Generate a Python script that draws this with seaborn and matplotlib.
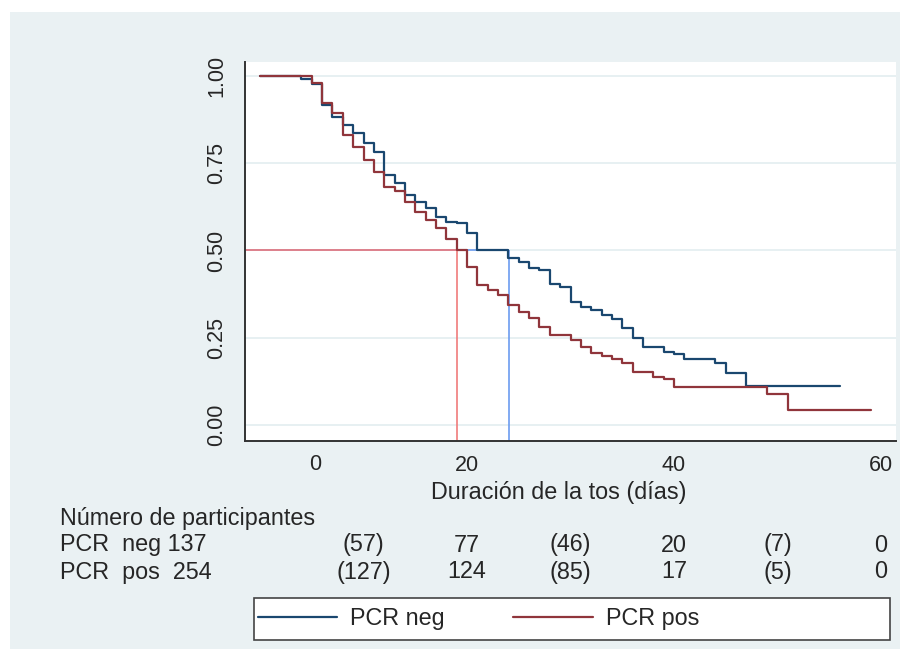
import numpy as np
import pandas as pd
import matplotlib
matplotlib.use('Agg')
import matplotlib.pyplot as plt
import matplotlib.transforms as mtransforms
from matplotlib.patches import Rectangle
from matplotlib.lines import Line2D
import seaborn as sns

# curvas de Kaplan-Meier
dias_neg = [0, 4, 5, 6, 7, 8, 9, 10, 11, 12, 13, 14, 15, 16, 17, 18, 19, 20, 21, 24, 25, 26, 27, 28,
            29, 30, 31, 32, 33, 34, 35, 36, 37, 39, 40, 41, 44, 45, 47, 56]
surv_neg = [1.0, 0.99, 0.977, 0.917, 0.883, 0.86, 0.836, 0.807, 0.783, 0.716, 0.692, 0.659, 0.638,
            0.622, 0.597, 0.583, 0.578, 0.549, 0.5, 0.478, 0.468, 0.449, 0.444, 0.404, 0.396, 0.353,
            0.339, 0.33, 0.315, 0.303, 0.277, 0.248, 0.224, 0.21, 0.202, 0.19, 0.179, 0.15, 0.112, 0.112]
dias_pos = [0, 5, 6, 7, 8, 9, 10, 11, 12, 13, 14, 15, 16, 17, 18, 19, 20, 21, 22, 23, 24, 25, 26, 27,
            28, 30, 31, 32, 33, 34, 35, 36, 38, 39, 40, 49, 51, 59]
surv_pos = [1.0, 0.979, 0.922, 0.893, 0.831, 0.797, 0.759, 0.726, 0.683, 0.671, 0.64, 0.611, 0.587,
            0.564, 0.532, 0.5, 0.454, 0.401, 0.387, 0.372, 0.344, 0.325, 0.306, 0.282, 0.258, 0.244,
            0.224, 0.207, 0.198, 0.189, 0.178, 0.153, 0.138, 0.131, 0.108, 0.088, 0.043, 0.043]

grupos = ['PCR neg', 'PCR pos']
medianas = [24.1, 19]
colores = {'PCR neg': '#1a476f', 'PCR pos': '#90353b'}
colores_mediana = {'PCR neg': '#6c9cf0', 'PCR pos': '#f07b7b'}

# tabla de participantes
tiempos_tabla = [10, 20, 30, 40, 50, 60]
riesgo_neg = ['(57)', '77', '(46)', '20', '(7)', '0']
riesgo_pos = ['(127)', '124', '(85)', '17', '(5)', '0']
etiquetas_filas = ['PCR  neg 137', 'PCR  pos  254']

df = pd.concat([
    pd.DataFrame({'dias': dias_neg, 'surv': surv_neg, 'grupo': 'PCR neg'}),
    pd.DataFrame({'dias': dias_pos, 'surv': surv_pos, 'grupo': 'PCR pos'}),
])

sns.set_style('white')
plt.rcParams['font.family'] = ['Liberation Sans', 'DejaVu Sans']
fs = 16.8

W, H = 903, 656
fig = plt.figure(figsize=(W / 100, H / 100), dpi=100, facecolor='white')
fondo = '#eaf1f3'
fig.patches.append(Rectangle((10 / W, 7 / H), 890 / W, 637 / H, transform=fig.transFigure,
                             facecolor=fondo, edgecolor='none', zorder=-5))

ax = fig.add_axes([245 / W, 1 - 440.7 / H, (896 - 245) / W, (440.7 - 62) / H])
ax.set_facecolor('white')

xmin, xmax = -1.45, 61.45
ymin, ymax = -0.045, 1.04

for y in [0, 0.25, 0.5, 0.75, 1.0]:
    ax.axhline(y, color='#e3edf0', lw=1.2, zorder=0)

# lineas de la mediana
for g, m in zip(grupos, medianas):
    ax.hlines(0.5, xmin, m, color=colores_mediana[g], lw=1.2, zorder=1)
    ax.vlines(m, ymin, 0.5, color=colores_mediana[g], lw=1.2, zorder=1)

sns.lineplot(data=df, x='dias', y='surv', hue='grupo', palette=colores, drawstyle='steps-post',
             lw=1.6, legend=False, errorbar=None, ax=ax, zorder=3)

ax.set_xlim(xmin, xmax)
ax.set_ylim(ymin, ymax)
ax.set_xticks([0, 20, 40, 60])
ax.set_xticklabels(['', '20', '40', '60'], fontsize=15.5)
ax.set_yticks([0, 0.25, 0.5, 0.75, 1.0])
ax.set_yticklabels(['0.00', '0.25', '0.50', '0.75', '1.00'], fontsize=15.5, rotation=90, va='center')
ax.tick_params(axis='both', length=7, width=1.2, color='#333333', direction='out')
ax.tick_params(axis='x', pad=3)
ax.tick_params(axis='y', pad=6)
for s in ['top', 'right']:
    ax.spines[s].set_visible(False)
for s in ['left', 'bottom']:
    ax.spines[s].set_color('#333333')
    ax.spines[s].set_linewidth(1.4)

trans = mtransforms.blended_transform_factory(ax.transData, fig.transFigure)
ax.text(5.3, 1 - 464 / H, '0', transform=trans, ha='center', va='center', fontsize=15.5)

ax.set_xlabel('Duración de la tos (días)', fontsize=fs)
ax.set_ylabel('')
ax.xaxis.set_label_coords((559 - 245) / (896 - 245), 1 - (492 - 62) / (440.7 - 62))
ax.xaxis.label.set_va('center')

fig.text(60 / W, 1 - 518 / H, 'Número de participantes', fontsize=fs, va='center', ha='left')
for fila, yp in zip(etiquetas_filas, [545, 572]):
    fig.text(60 / W, 1 - yp / H, fila, fontsize=fs, va='center', ha='left')
for t, a, b in zip(tiempos_tabla, riesgo_neg, riesgo_pos):
    ax.text(t, 1 - 545 / H, a, transform=trans, ha='center', va='center', fontsize=fs)
    ax.text(t, 1 - 572 / H, b, transform=trans, ha='center', va='center', fontsize=fs)

# leyenda
fig.patches.append(Rectangle((254 / W, 1 - 640 / H), (890 - 254) / W, 42 / H, transform=fig.transFigure,
                             facecolor='white', edgecolor='#444444', lw=1.2, zorder=-1))
handles = [Line2D([], [], color=colores[g], lw=1.6) for g in grupos]
fig.legend(handles, grupos, loc='center left', bbox_to_anchor=(258 / W, 1 - 619 / H), ncol=2,
           frameon=False, fontsize=fs, handlelength=3.4, handletextpad=0.55, columnspacing=2.94,
           borderpad=0, borderaxespad=0)

fig.savefig('out.png', dpi=100, facecolor='white')
